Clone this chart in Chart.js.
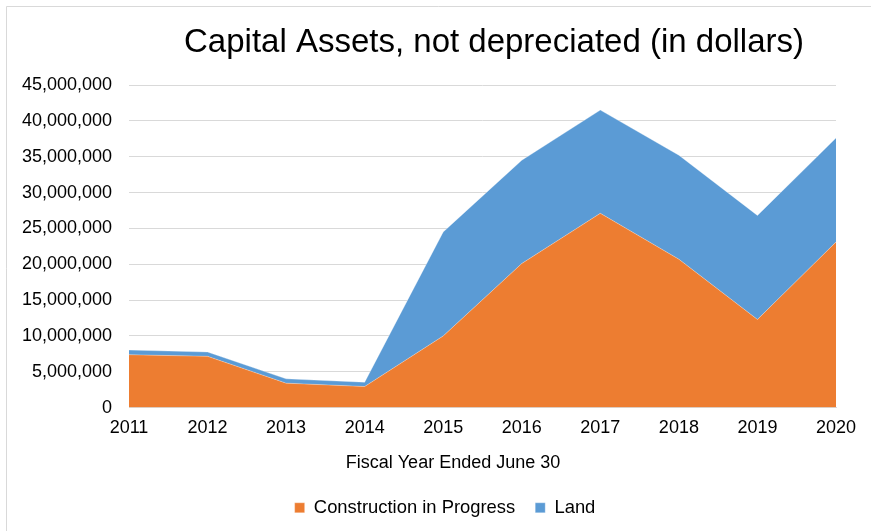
<!DOCTYPE html>
<html>
<head>
<meta charset="utf-8">
<script src="https://cdn.jsdelivr.net/npm/chart.js@4/dist/chart.umd.min.js"></script>
<style>
html,body{margin:0;padding:0;background:#fff;}
canvas{display:block;}
</style>
</head>
<body>
<canvas id="c" width="871" height="531"></canvas>
<script>
const years = ['2011','2012','2013','2014','2015','2016','2017','2018','2019','2020'];
const construction = [7380000, 7150000, 3410000, 2940000, 10000000, 20100000, 27100000, 20700000, 12300000, 23100000];
const land = [650000, 600000, 600000, 600000, 14500000, 14400000, 14400000, 14500000, 14500000, 14500000];
const yTicks = [0, 5000000, 10000000, 15000000, 20000000, 25000000, 30000000, 35000000, 40000000, 45000000];
const chartTitle = 'Capital Assets, not depreciated (in dollars)';
const xAxisTitle = 'Fiscal Year Ended June 30';

const FONT = "'Liberation Sans', Arial, sans-serif";

const framePlugin = {
  id: 'frame',
  afterLayout(chart) {
    if (chart.legend) { chart.legend.left += 54; }
  },
  beforeDraw(chart) {
    const ctx = chart.ctx;
    ctx.save();
    ctx.fillStyle = '#fff';
    ctx.fillRect(0, 0, chart.width, chart.height);
    ctx.strokeStyle = '#d9d9d9';
    ctx.lineWidth = 1;
    ctx.beginPath();
    ctx.moveTo(6.5, chart.height);
    ctx.lineTo(6.5, 6.5);
    ctx.lineTo(chart.width, 6.5);
    ctx.stroke();
    ctx.restore();
  },
  afterDraw(chart) {
    const ctx = chart.ctx;
    ctx.save();
    ctx.fillStyle = '#000';
    ctx.textAlign = 'center';
    ctx.textBaseline = 'alphabetic';
    ctx.font = '33px ' + FONT;
    ctx.fillText(chartTitle, 494, 52);
    ctx.font = '18px ' + FONT;
    ctx.fillText(xAxisTitle, 453, 468);
    ctx.restore();
  }
};

new Chart(document.getElementById('c'), {
  type: 'line',
  data: {
    labels: years,
    datasets: [
      {
        label: 'Construction in Progress',
        data: construction,
        backgroundColor: '#ED7D31',
        borderColor: 'rgba(255,255,255,0.5)',
        borderWidth: 0.6,
        fill: 'origin',
        pointRadius: 0,
        tension: 0
      },
      {
        label: 'Land',
        data: land,
        backgroundColor: '#5B9BD5',
        borderColor: 'rgba(255,255,255,0.5)',
        borderWidth: 0.6,
        fill: '-1',
        pointRadius: 0,
        tension: 0
      }
    ]
  },
  options: {
    responsive: false,
    animation: false,
    devicePixelRatio: 1,
    layout: { padding: { left: 0, right: 35, top: 85, bottom: 4 } },
    plugins: {
      title: { display: false },
      legend: {
        position: 'bottom',
        labels: {
          color: '#000',
          font: { family: FONT, size: 18.4 },
          boxWidth: 10,
          boxHeight: 10,
          padding: 20
        }
      },
      tooltip: { enabled: false }
    },
    scales: {
      x: {
        offset: false,
        afterFit(scale) { scale.height = 71; },
        grid: { display: false, drawTicks: false },
        border: { display: true, color: '#d9d9d9' },
        ticks: { color: '#000', font: { family: FONT, size: 18 }, padding: 10, maxRotation: 0, autoSkip: false }
      },
      y: {
        stacked: true,
        min: 0,
        max: 45000000,
        afterFit(scale) { scale.width = 129; },
        afterBuildTicks(scale) { scale.ticks = yTicks.map(v => ({ value: v })); },
        grid: { color: '#d9d9d9', lineWidth: 1, drawTicks: false },
        border: { display: false },
        ticks: {
          color: '#000',
          font: { family: FONT, size: 18 },
          padding: 17,
          callback: v => Number(v).toLocaleString('en-US')
        }
      }
    }
  },
  plugins: [framePlugin]
});
</script>
</body>
</html>
